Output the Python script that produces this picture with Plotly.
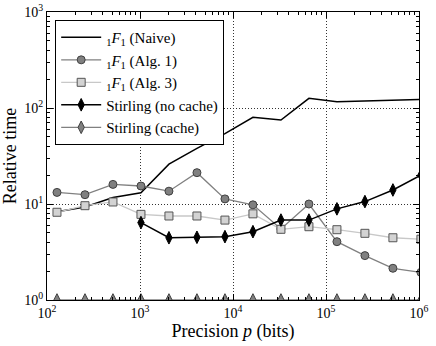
import plotly.graph_objects as go

precision = [128, 256, 512, 1024, 2048, 4096, 8192, 16384, 32768, 65536,
             131072, 262144, 524288, 1048576]

naive = [8.3, 9.3, 11.7, 13.1, 26, 38, 54, 80, 75, 126, 116, 118, 121, 123]
alg1 = [13.2, 12.5, 16.0, 15.4, 13.6, 21.2, 11.3, 9.8, 5.5, 10.0, 4.05, 2.9, 2.14, 1.94]
alg3 = [8.2, 9.6, 10.5, 7.8, 7.5, 7.5, 6.8, 7.9, 5.45, 5.8, 5.4, 4.95, 4.45, 4.3]
stirling_prec = [1024, 2048, 4096, 8192, 16384, 32768, 65536, 131072, 262144, 524288, 1048576]
stirling_nc = [6.4, 4.45, 4.5, 4.57, 5.15, 6.8, 6.8, 8.9, 10.6, 14.0, 20.0]
stirling_c = [1.0] * len(precision)

FONT = "Times New Roman, Liberation Serif, serif"
F11 = "<sub>1</sub><i>F</i><sub>1</sub>"

fig = go.Figure()
fig.add_trace(go.Scatter(x=precision, y=naive, mode="lines", name=F11 + " (Naive)",
                         line=dict(color="black", width=1.5)))
fig.add_trace(go.Scatter(x=precision, y=alg1, mode="lines+markers", name=F11 + " (Alg. 1)",
                         line=dict(color="#808080", width=1.3),
                         marker=dict(symbol="circle", size=8, color="#808080",
                                     line=dict(color="#404040", width=1))))
fig.add_trace(go.Scatter(x=precision, y=alg3, mode="lines+markers", name=F11 + " (Alg. 3)",
                         line=dict(color="#c8c8c8", width=1.3),
                         marker=dict(symbol="square", size=8, color="#d3d3d3",
                                     line=dict(color="#555555", width=1))))
fig.add_trace(go.Scatter(x=stirling_prec, y=stirling_nc, mode="lines+markers",
                         name="Stirling (no cache)",
                         line=dict(color="black", width=1.5),
                         marker=dict(symbol="diamond-tall", size=9, color="black",
                                     line=dict(color="black", width=1))))
fig.add_trace(go.Scatter(x=precision, y=stirling_c, mode="lines+markers",
                         name="Stirling (cache)",
                         line=dict(color="#808080", width=1.3),
                         marker=dict(symbol="diamond-tall", size=9, color="#808080",
                                     line=dict(color="#404040", width=1))))


def minor_vals(lo, hi):
    return [m * 10 ** e for e in range(lo, hi) for m in range(2, 10)]


axis_common = dict(
    type="log", showline=True, linecolor="black", linewidth=1.2, mirror="allticks",
    ticks="inside", ticklen=6, tickcolor="black", tickwidth=1,
    showgrid=True, gridcolor="#333333", griddash="1px,2px", gridwidth=1,
    zeroline=False, tickfont=dict(family=FONT, size=14, color="black"),
    automargin=False,
)

fig.update_xaxes(**axis_common, range=[2, 6],
                 tickvals=[1e2, 1e3, 1e4, 1e5, 1e6],
                 ticktext=["10<sup>2</sup>", "10<sup>3</sup>", "10<sup>4</sup>",
                           "10<sup>5</sup>", "10<sup>6</sup>"],
                 minor=dict(tickmode="array", tickvals=minor_vals(2, 6), ticks="inside",
                            ticklen=3, tickcolor="black", showgrid=False),
                 title=dict(text="Precision <i>p</i> (bits)",
                            font=dict(family=FONT, size=18, color="black"), standoff=4))
fig.update_yaxes(**axis_common, range=[0, 3],
                 tickvals=[1, 10, 100, 1000],
                 ticktext=["10<sup>0</sup>", "10<sup>1</sup>", "10<sup>2</sup>", "10<sup>3</sup>"],
                 minor=dict(tickmode="array", tickvals=minor_vals(0, 3), ticks="inside",
                            ticklen=3, tickcolor="black", showgrid=False),
                 title=dict(text="Relative time",
                            font=dict(family=FONT, size=18, color="black"), standoff=6))

fig.update_layout(
    width=436, height=346,
    margin=dict(l=47, r=17, t=12, b=46),
    paper_bgcolor="white", plot_bgcolor="white",
    showlegend=True,
    legend=dict(x=0.022, y=0.972, xanchor="left", yanchor="top",
                bgcolor="white", bordercolor="black", borderwidth=1,
                font=dict(family=FONT, size=15, color="black"),
                tracegroupgap=0, itemwidth=40),
)

fig.write_html("out.html", post_script="document.body.style.margin='0';",
               config={"displayModeBar": False})
